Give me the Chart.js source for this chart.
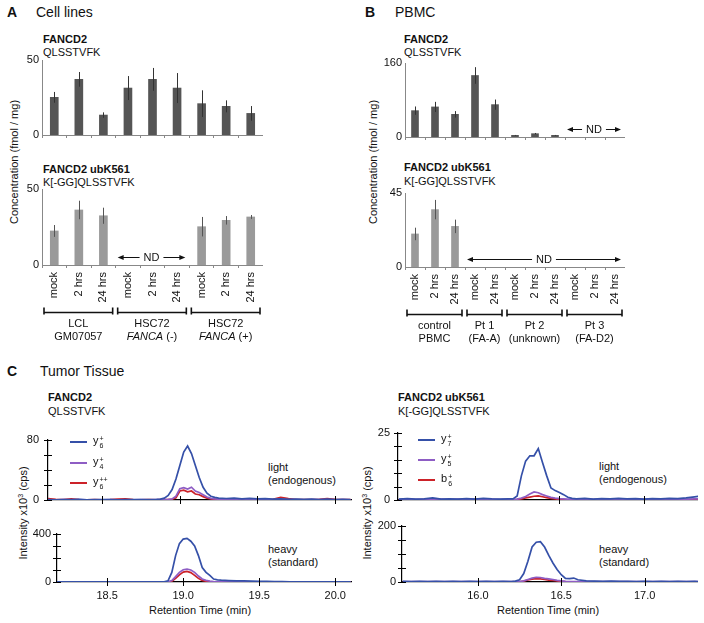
<!DOCTYPE html>
<html>
<head>
<meta charset="utf-8">
<script src="https://cdn.jsdelivr.net/npm/chart.js@4.4.0/dist/chart.umd.min.js"></script>
<style>
body{margin:0;background:#fff;width:704px;height:623px;overflow:hidden;position:relative;font-family:'Liberation Sans',Arial,sans-serif;color:#111}
canvas{position:absolute}
.t{position:absolute;font-size:11px;line-height:13px;white-space:nowrap}
.b{font-weight:bold}
.pl{position:absolute;font-size:14px;line-height:16px;white-space:nowrap}
.rot{position:absolute;transform:translate(-50%,-50%) rotate(-90deg);font-size:11px;line-height:13px;white-space:nowrap}
.ctr{transform:translateX(-50%)}
.leg{position:absolute;font-size:11px;line-height:13px;white-space:nowrap}
.leg .sw{position:absolute;left:0;top:6px;width:17px;height:0;border-top:2px solid}
.leg .lab{position:absolute;left:23px;top:-1px}
.ss{display:inline-block;vertical-align:-4px;font-size:7px;line-height:7px;margin-left:1px}
.ss span{display:block}
</style>
</head>
<body>
<div class="pl b" style="left:7px;top:4px">A</div>
<div class="pl" style="left:36px;top:4px">Cell lines</div>
<div class="pl b" style="left:365px;top:4px">B</div>
<div class="pl" style="left:395px;top:4px">PBMC</div>
<div class="pl b" style="left:7px;top:363px">C</div>
<div class="pl" style="left:40px;top:363px">Tumor Tissue</div>

<div class="t b" style="left:43px;top:33px">FANCD2</div>
<div class="t" style="left:43px;top:46px">QLSSTVFK</div>
<div class="t b" style="left:43px;top:163px">FANCD2 ubK561</div>
<div class="t" style="left:43px;top:176px">K[-GG]QLSSTVFK</div>
<div class="t b" style="left:404px;top:33px">FANCD2</div>
<div class="t" style="left:404px;top:46px">QLSSTVFK</div>
<div class="t b" style="left:404px;top:161px">FANCD2 ubK561</div>
<div class="t" style="left:404px;top:175px">K[-GG]QLSSTVFK</div>
<div class="rot" style="left:14px;top:162px">Concentration (fmol / mg)</div>
<div class="rot" style="left:373px;top:162px">Concentration (fmol / mg)</div>

<div class="t b" style="left:48px;top:391px">FANCD2</div>
<div class="t" style="left:48px;top:405px">QLSSTVFK</div>
<div class="t b" style="left:398px;top:391px">FANCD2 ubK561</div>
<div class="t" style="left:398px;top:405px">K[-GG]QLSSTVFK</div>
<div class="rot" style="left:22px;top:513px">Intensity x10<sup style="font-size:7px">3</sup> (cps)</div>
<div class="rot" style="left:366px;top:513px">Intensity x10<sup style="font-size:7px">3</sup> (cps)</div>
<div class="t" style="left:268px;top:461px">light<br>(endogenous)</div>
<div class="t" style="left:599px;top:460px">light<br>(endogenous)</div>
<div class="t" style="left:268px;top:543px">heavy<br>(standard)</div>
<div class="t" style="left:599px;top:543px">heavy<br>(standard)</div>
<div class="t ctr" style="left:200px;top:604px">Retention Time (min)</div>
<div class="t ctr" style="left:548px;top:604px">Retention Time (min)</div>

<script>
// bar panels (fmol / mg)
const catsA = ['mock', '2 hrs', '24 hrs', 'mock', '2 hrs', '24 hrs', 'mock', '2 hrs', '24 hrs'];
const fancd2A = [25.1, 37.1, 13.3, 31.3, 37.1, 31.3, 20.9, 19.1, 14.4];
const fancd2AErr = [3.6, 4.9, 1.8, 8.0, 7.6, 10.0, 8.9, 4.0, 4.9];
const ubA = [22.4, 36.2, 32.4, null, null, null, 25.2, 29.4, 31.6];
const ubAErr = [3.9, 6.1, 5.3, null, null, null, 6.4, 2.8, 1.3];
const groupStartA = [0, 3, 6];
const groupEndA = [2, 5, 8];
const groupLine1A = ['LCL', 'HSC72', 'HSC72'];
const groupLine2A = ['GM07057', 'FANCA (-)', 'FANCA (+)'];
const groupItalicA = ['', 'FANCA', 'FANCA'];

const catsB = ['mock', '2 hrs', '24 hrs', 'mock', '24 hrs', 'mock', '2 hrs', '24 hrs', 'mock', '2 hrs', '24 hrs'];
const fancd2B = [57, 65, 49, 133, 70, 3.6, 7.2, 3.6, null, null, null];
const fancd2BErr = [9, 11, 7, 18, 11, 0.8, 1.5, 0.8, null, null, null];
const ubB = [20.1, 34.9, 24.7, null, null, null, null, null, null, null, null];
const ubBErr = [3.8, 5.9, 4.1, null, null, null, null, null, null, null, null];
const groupStartB = [0, 3, 5, 8];
const groupEndB = [2, 4, 7, 10];
const groupLine1B = ['control', 'Pt 1', 'Pt 2', 'Pt 3'];
const groupLine2B = ['PBMC', '(FA-A)', '(unknown)', '(FA-D2)'];
const groupItalicB = ['', '', '', ''];

// chromatograms (intensity x10^3 cps)
const timeL = [18.15, 18.2, 18.25, 18.3, 18.35, 18.4, 18.45, 18.5, 18.55, 18.6, 18.65, 18.7, 18.75, 18.8, 18.85,
  18.875, 18.9, 18.925, 18.95, 18.975, 19.0, 19.025, 19.05, 19.075, 19.1, 19.125, 19.15, 19.175, 19.2, 19.225, 19.25,
  19.3, 19.35, 19.4, 19.45, 19.5, 19.55, 19.6, 19.65, 19.7, 19.75, 19.8, 19.85, 19.9, 19.95, 20.0, 20.05, 20.1];
const lightY6L = [0.5, 0.3, 0.6, 0.4, 0.8, 0.3, 0.5, 0.4, 0.6, 0.3, 0.5, 0.4, 0.6, 0.5, 0.8,
  1.2, 2.5, 6, 14, 28, 46, 64, 72, 62, 46, 30, 17, 9, 5, 3.5, 2.5,
  2, 2.6, 1.5, 2.2, 1.4, 1.8, 1.2, 1.5, 1, 1.2, 0.8, 1.1, 0.7, 1.2, 0.6, 0.9, 0.5];
const lightY4L = [0.3, 0.2, 0.4, 0.3, 0.5, 0.2, 0.3, 0.3, 0.4, 0.2, 0.3, 0.3, 0.4, 0.3, 0.4,
  0.5, 0.6, 0.8, 1.5, 5, 15, 16.5, 14.5, 17, 12, 10, 7, 4, 2.2, 1.5, 1,
  0.8, 0.6, 0.5, 0.7, 0.4, 0.6, 0.5, 0.8, 0.4, 0.5, 0.3, 0.5, 0.4, 0.5, 0.3, 0.4, 0.3];
const lightY6ppL = [2, 0.8, 0.4, 1.5, 0.5, 0.3, 0.4, 0.3, 0.5, 1.2, 1.6, 0.4, 0.3, 0.5, 0.3,
  0.4, 0.5, 0.6, 1, 3, 12, 13, 11, 12, 8, 7, 4.5, 2.5, 1.5, 1, 0.6,
  0.5, 0.4, 0.6, 0.4, 0.5, 0.6, 1.0, 3.5, 1.8, 0.6, 0.4, 0.5, 1, 2, 0.8, 0.5, 0.4];
const heavyY6L = [2, 1.5, 2, 1.5, 2, 1.5, 2, 1.5, 2, 1.5, 2, 1.5, 2, 1.5, 2,
  2, 10, 80, 220, 320, 358, 364, 340, 300, 220, 120, 80, 55, 25, 18, 15,
  12, 10, 9, 8, 6, 5, 4, 3, 2, 2, 1.5, 2, 1.5, 2, 1.5, 2, 1.5];
const heavyY4L = [1, 0.8, 1, 0.8, 1, 0.8, 1, 0.8, 1, 0.8, 1, 0.8, 1, 0.8, 1,
  1, 2, 12, 45, 80, 102, 108, 100, 80, 50, 25, 14, 8, 4, 2, 1.5,
  1, 1, 1, 0.8, 1, 0.8, 1, 0.8, 1, 0.8, 1, 0.8, 1, 0.8, 1, 0.8, 1];
const heavyY6ppL = [0.5, 0.5, 0.5, 0.5, 0.5, 0.5, 0.5, 0.5, 0.5, 0.5, 0.5, 0.5, 0.5, 0.5, 0.5,
  0.5, 1, 6, 30, 60, 82, 88, 78, 55, 30, 12, 6, 3, 2, 1, 0.5,
  0.5, 0.5, 0.5, 0.5, 0.5, 0.5, 0.5, 0.5, 0.5, 0.5, 0.5, 0.5, 0.5, 0.5, 0.5, 0.5, 0.5];
const ionsL = ['y|6|+', 'y|4|+', 'y|6|++'];
const xTicksL = [18.5, 19.0, 19.5, 20.0];

const timeR = [15.55, 15.6, 15.65, 15.7, 15.75, 15.8, 15.85, 15.9, 15.95, 16.0, 16.05, 16.1, 16.15, 16.2,
  16.225, 16.25, 16.275, 16.3, 16.325, 16.35, 16.375, 16.4, 16.425, 16.45, 16.475, 16.5, 16.525, 16.55, 16.575, 16.6,
  16.65, 16.7, 16.75, 16.8, 16.85, 16.9, 16.95, 17.0, 17.05, 17.1, 17.15, 17.2, 17.25, 17.3, 17.35];
const lightY7R = [0.3, 0.5, 0.3, 0.4, 0.8, 0.3, 0.4, 0.3, 0.5, 0.3, 0.6, 0.4, 0.3, 0.4,
  0.4, 1.5, 9, 14.5, 16.5, 16.5, 19.2, 14, 9, 4.5, 3.5, 2.8, 2, 1, 0.6, 0.4,
  0.6, 0.3, 0.5, 0.4, 0.6, 0.4, 0.5, 0.3, 0.5, 0.4, 0.6, 0.5, 0.8, 1.2, 1.6];
const lightY5R = [0.2, 0.3, 0.2, 0.3, 0.2, 0.3, 0.2, 0.3, 0.2, 0.3, 0.2, 0.3, 0.2, 0.3,
  0.2, 0.3, 0.7, 1.3, 2.2, 3.0, 2.7, 2.0, 1.5, 1.0, 0.7, 0.5, 0.4, 0.3, 0.3, 0.2,
  0.3, 0.2, 0.3, 0.2, 0.3, 0.2, 0.3, 0.2, 0.3, 0.2, 0.3, 0.2, 0.3, 0.4, 0.5];
const lightB6R = [0.1, 0.1, 0.1, 0.1, 0.1, 0.1, 0.1, 0.1, 0.1, 0.1, 0.1, 0.1, 0.1, 0.1,
  0.1, 0.2, 0.4, 0.8, 1.1, 1.4, 1.5, 1.2, 0.9, 0.6, 0.4, 0.2, 0.1, 0.1, 0.1, 0.1,
  0.1, 0.1, 0.1, 0.1, 0.1, 0.1, 0.1, 0.1, 0.1, 0.1, 0.1, 0.1, 0.1, 0.1, 0.1];
const heavyY7R = [2, 1.5, 2, 1.5, 2, 1.5, 2, 1.5, 2, 1.5, 2, 1.5, 2, 1.5,
  3, 8, 30, 74, 125, 142, 144, 125, 95, 68, 45, 26, 13, 12, 14, 8,
  4, 3, 2, 3, 2, 2, 1.5, 2, 1.5, 2, 1.5, 2, 1.5, 2, 1.5];
const heavyY5R = [1, 1, 1, 1, 1, 1, 1, 1, 1, 1, 1, 1, 1, 1,
  1, 1.5, 4, 9, 14, 17, 16, 13, 11, 9, 6, 4, 2, 1.5, 1, 1,
  1, 1, 1, 1, 1, 1, 1, 1, 1, 1, 1, 1, 1, 1, 1];
const heavyB6R = [0.5, 0.5, 0.5, 0.5, 0.5, 0.5, 0.5, 0.5, 0.5, 0.5, 0.5, 0.5, 0.5, 0.5,
  0.5, 0.8, 3, 7, 10, 12, 11, 9, 7, 6, 4, 2, 1, 0.5, 0.5, 0.5,
  0.5, 0.5, 0.5, 0.5, 0.5, 0.5, 0.5, 0.5, 0.5, 0.5, 0.5, 0.5, 0.5, 0.5, 0.5];
const ionsR = ['y|7|+', 'y|5|+', 'b|6|+'];
const xTicksR = [16.0, 16.5, 17.0];

const BLUE = '#3550a8', PURPLE = '#8e5dc4', RED = '#cc2229';
const ionColors = [BLUE, PURPLE, RED];

Chart.defaults.font.family = "'Liberation Sans', Arial, sans-serif";
Chart.defaults.font.size = 11;
Chart.defaults.color = '#111';
Chart.defaults.animation = false;

function canvasAt(left, top, w, h) {
  const c = document.createElement('canvas');
  c.width = w; c.height = h;
  c.style.left = left + 'px'; c.style.top = top + 'px';
  c.style.width = w + 'px'; c.style.height = h + 'px';
  document.body.appendChild(c);
  return c;
}

// error bars, read from dataset.errors
const errPlugin = {
  id: 'errbars',
  afterDatasetsDraw(chart) {
    const ctx = chart.ctx, y = chart.scales.y;
    chart.data.datasets.forEach((ds, di) => {
      if (!ds.errors) return;
      const meta = chart.getDatasetMeta(di);
      ctx.save();
      ctx.strokeStyle = ds.errColor; ctx.lineWidth = 1;
      ds.data.forEach((v, i) => {
        const e = ds.errors[i];
        if (v == null || e == null) return;
        const x = Math.round(meta.data[i].x) + 0.5;
        ctx.beginPath();
        ctx.moveTo(x, y.getPixelForValue(v + e));
        ctx.lineTo(x, y.getPixelForValue(Math.max(v - e, 0)));
        ctx.stroke();
      });
      ctx.restore();
    });
  }
};

// ND arrows, brackets and group names under the category axis
const annotPlugin = {
  id: 'annot',
  afterDraw(chart, args, o) {
    const ctx = chart.ctx, x = chart.scales.x, y = chart.scales.y;
    const half = (x.getPixelForValue(1) - x.getPixelForValue(0)) / 2;
    ctx.save();
    ctx.strokeStyle = '#111'; ctx.fillStyle = '#111';
    ctx.font = "11px 'Liberation Sans', Arial, sans-serif";
    if (o.nd) {
      const x1 = x.getPixelForValue(o.nd[0]) - half + 2;
      const x2 = x.getPixelForValue(o.nd[1]) + half - 4;
      const yy = Math.round(y.getPixelForValue(0) - 8) + 0.5;
      const xc = (x1 + x2) / 2, tw = ctx.measureText('ND').width;
      ctx.lineWidth = 1.2;
      ctx.beginPath();
      ctx.moveTo(x1 + 4, yy); ctx.lineTo(xc - tw / 2 - 4, yy);
      ctx.moveTo(xc + tw / 2 + 4, yy); ctx.lineTo(x2 - 4, yy);
      ctx.stroke();
      ctx.beginPath();
      ctx.moveTo(x1, yy); ctx.lineTo(x1 + 6, yy - 2.5); ctx.lineTo(x1 + 6, yy + 2.5); ctx.closePath();
      ctx.moveTo(x2, yy); ctx.lineTo(x2 - 6, yy - 2.5); ctx.lineTo(x2 - 6, yy + 2.5); ctx.closePath();
      ctx.fill();
      ctx.textAlign = 'center'; ctx.textBaseline = 'middle';
      ctx.fillText('ND', xc, yy + 0.5);
    }
    if (o.start) {
      const base = chart.chartArea.bottom;
      o.start.forEach((s, i) => {
        const x1 = x.getPixelForValue(s) - half + 2;
        const x2 = x.getPixelForValue(o.end[i]) + half - 3;
        const by = Math.round(base + 47) + 0.5;
        ctx.lineWidth = 1.6;
        ctx.beginPath();
        ctx.moveTo(x1, by); ctx.lineTo(x2, by);
        ctx.moveTo(x1, by - 5); ctx.lineTo(x1, by + 2);
        ctx.moveTo(x2, by - 5); ctx.lineTo(x2, by + 2);
        ctx.stroke();
        const xc = (x1 + x2) / 2;
        ctx.textBaseline = 'middle'; ctx.textAlign = 'center';
        ctx.font = "11px 'Liberation Sans', Arial, sans-serif";
        ctx.fillText(o.line1[i], xc, base + 59);
        const txt = o.line2[i], it = o.italic[i];
        const rest = txt.slice(it.length);
        ctx.font = "italic 11px 'Liberation Sans', Arial, sans-serif";
        const w1 = ctx.measureText(it).width;
        ctx.font = "11px 'Liberation Sans', Arial, sans-serif";
        const w2 = ctx.measureText(rest).width;
        let xs = xc - (w1 + w2) / 2;
        ctx.textAlign = 'left';
        ctx.font = "italic 11px 'Liberation Sans', Arial, sans-serif";
        ctx.fillText(it, xs, base + 72);
        ctx.font = "11px 'Liberation Sans', Arial, sans-serif";
        ctx.fillText(rest, xs + w1, base + 72);
      });
    }
    ctx.restore();
  }
};

function barChart(box, labels, values, errors, color, errColor, yMax, showLabels, annot) {
  return new Chart(canvasAt(box.left, box.top, box.w, box.h), {
    type: 'bar',
    data: {labels: labels, datasets: [{data: values, errors: errors, errColor: errColor, backgroundColor: color, barThickness: box.bar}]},
    options: {
      responsive: false,
      layout: {padding: {top: 8, right: 0, bottom: 0, left: 0}},
      plugins: {legend: {display: false}, tooltip: {enabled: false}, annot: annot},
      scales: {
        x: {
          grid: {display: true, drawOnChartArea: false, tickLength: 3, color: '#888'},
          border: {color: '#888'},
          ticks: {display: showLabels, minRotation: 90, maxRotation: 90, autoSkip: false, padding: 4},
          afterFit: s => { s.height = box.xh; s.paddingLeft = 0; s.paddingRight = 0; }
        },
        y: {
          min: 0, max: yMax,
          grid: {display: false, drawTicks: false},
          border: {color: '#888'},
          ticks: {stepSize: yMax, padding: 3, autoSkip: false},
          afterFit: s => { s.width = 30; s.paddingTop = 0; s.paddingBottom = 0; }
        }
      }
    },
    plugins: [errPlugin, annotPlugin]
  });
}

barChart({left: 12, top: 52, w: 251, h: 89, xh: 6, bar: 8}, catsA, fancd2A, fancd2AErr, '#555', '#333', 50, false, {});
barChart({left: 12, top: 181, w: 251, h: 164, xh: 80, bar: 8}, catsA, ubA, ubAErr, '#9a9a9a', '#555', 50, true,
  {nd: [3, 5], start: groupStartA, end: groupEndA, line1: groupLine1A, line2: groupLine2A, italic: groupItalicA});
barChart({left: 375, top: 55, w: 250, h: 88, xh: 6, bar: 7}, catsB, fancd2B, fancd2BErr, '#555', '#333', 160, false, {nd: [8, 10]});
barChart({left: 375, top: 185, w: 250, h: 162, xh: 80, bar: 7}, catsB, ubB, ubBErr, '#9a9a9a', '#555', 45, true,
  {nd: [3, 10], start: groupStartB, end: groupEndB, line1: groupLine1B, line2: groupLine2B, italic: groupItalicB});

// ticks crossing the axes
const crossTicks = {
  id: 'crossTicks',
  afterDraw(chart) {
    const ctx = chart.ctx, a = chart.chartArea, x = chart.scales.x, y = chart.scales.y;
    ctx.save();
    ctx.strokeStyle = '#000'; ctx.lineWidth = 1;
    ctx.beginPath();
    y.ticks.forEach(t => {
      const p = Math.round(y.getPixelForValue(t.value)) + 0.5;
      ctx.moveTo(a.left - 4, p); ctx.lineTo(a.left + 4, p);
    });
    x.ticks.forEach(t => {
      const p = Math.round(x.getPixelForValue(t.value)) + 0.5;
      ctx.moveTo(p, a.bottom - 4); ctx.lineTo(p, a.bottom + 4);
    });
    ctx.stroke();
    ctx.restore();
  }
};

function chromChart(box, times, series, yMax, yStep, xMin, xMax, xTicks, showX) {
  return new Chart(canvasAt(box.left, box.top, box.w, box.h), {
    type: 'line',
    data: {
      datasets: series.map((vals, k) => ({
        data: times.map((t, i) => ({x: t, y: vals[i]})),
        borderColor: ionColors[k], borderWidth: 1.7, pointRadius: 0, tension: 0
      }))
    },
    options: {
      responsive: false,
      layout: {padding: {top: 8, right: 0, bottom: 0, left: 0}},
      plugins: {legend: {display: false}, tooltip: {enabled: false}},
      scales: {
        x: {
          type: 'linear', min: xMin, max: xMax,
          grid: {display: false, drawTicks: false},
          border: {color: '#000', width: 1.2},
          afterBuildTicks: s => { s.ticks = xTicks.map(v => ({value: v})); },
          ticks: {display: showX, padding: 7, autoSkip: false, callback: v => v.toFixed(1)},
          afterFit: s => { s.height = box.xh; s.paddingLeft = 0; s.paddingRight = 0; }
        },
        y: {
          min: 0, max: yMax,
          grid: {display: false, drawTicks: false},
          border: {color: '#000', width: 1.2},
          ticks: {stepSize: yStep, padding: box.pad, autoSkip: false, callback: (v, i, arr) => (i === 0 || i === arr.length - 1) ? v : ''},
          afterFit: s => { s.width = box.yw; s.paddingTop = 0; s.paddingBottom = 0; }
        }
      }
    },
    plugins: [crossTicks]
  });
}

chromChart({left: 22, top: 432, w: 330, h: 74, xh: 6, yw: 26, pad: 9}, timeL, [lightY6L, lightY4L, lightY6ppL], 80, 20, 18.15, 20.11, xTicksL, false);
chromChart({left: 25, top: 526, w: 327, h: 78, xh: 22, yw: 32, pad: 6}, timeL, [heavyY6L, heavyY4L, heavyY6ppL], 400, 100, 18.17, 20.11, xTicksL, true);
chromChart({left: 372, top: 425, w: 326, h: 81, xh: 6, yw: 26, pad: 8}, timeR, [lightY7R, lightY5R, lightB6R], 25, 5, 15.545, 17.32, xTicksR, false);
chromChart({left: 370, top: 518, w: 328, h: 86, xh: 22, yw: 32, pad: 6}, timeR, [heavyY7R, heavyY5R, heavyB6R], 200, 50, 15.545, 17.32, xTicksR, true);

// legends with ion names like y|6|+
function legend(left, tops, ions) {
  ions.forEach((name, k) => {
    const p = name.split('|');
    const d = document.createElement('div');
    d.className = 'leg';
    d.style.left = left + 'px'; d.style.top = tops[k] + 'px';
    d.innerHTML = '<span class="sw" style="border-color:' + ionColors[k] + '"></span>' +
      '<span class="lab">' + p[0] + '<span class="ss"><span>' + p[2] + '</span><span>' + p[1] + '</span></span></span>';
    document.body.appendChild(d);
  });
}
legend(70, [435, 456, 476], ionsL);
legend(418, [433, 453, 473], ionsR);
</script>
</body>
</html>
